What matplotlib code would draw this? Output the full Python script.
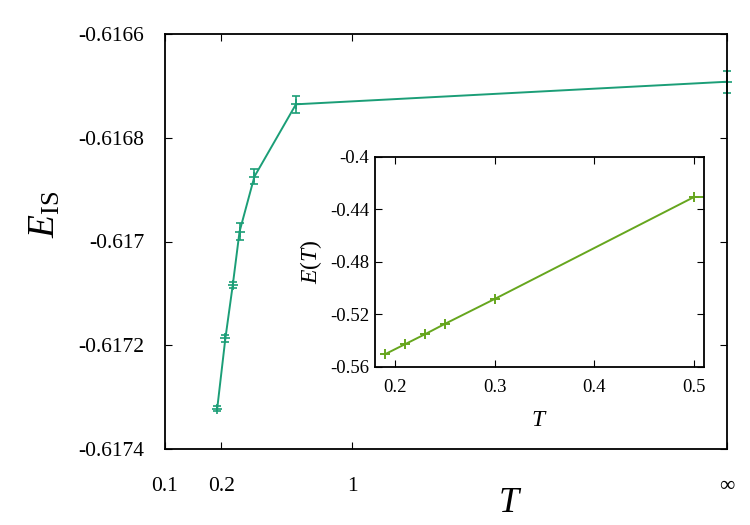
import numpy as np
import matplotlib
matplotlib.use("Agg")
import matplotlib.pyplot as plt

plt.rcParams['font.family'] = ['Liberation Serif', 'DejaVu Serif']
plt.rcParams['mathtext.fontset'] = 'custom'
plt.rcParams['mathtext.rm'] = 'Liberation Serif'
plt.rcParams['mathtext.it'] = 'Liberation Serif:italic'

# main panel: inherent structure energy vs T (infinity drawn at T=100)
T_main = [0.19, 0.21, 0.23, 0.25, 0.3, 0.5, 100.0]
E_is = [-0.617322, -0.617187, -0.617084, -0.616981, -0.616875, -0.6167355, -0.616692]
E_is_err = [0.0000048, 0.0000064, 0.0000058, 0.000016, 0.000015, 0.0000167, 0.000021]
x_ticks = [0.1, 0.2, 1, 100]
x_ticklabels = ["0.1", "0.2", "1", "\u221e"]
y_ticks = [-0.6174, -0.6172, -0.617, -0.6168, -0.6166]
y_ticklabels = ["-0.6174", "-0.6172", "-0.617", "-0.6168", "-0.6166"]

# inset: E(T)
T_in = [0.19, 0.21, 0.23, 0.25, 0.3, 0.5, 1.0]
E_T = [-0.5503, -0.5427, -0.5351, -0.5272, -0.5082, -0.4305, -0.4300]
in_xticks = [0.2, 0.3, 0.4, 0.5]
in_yticks = [-0.56, -0.52, -0.48, -0.44, -0.4]
in_yticklabels = ["-0.56", "-0.52", "-0.48", "-0.44", "-0.4"]

fig = plt.figure(figsize=(7.5, 5.25), dpi=100)
ax = fig.add_axes([0.22, 0.1448, 0.7493, 0.7904])
ax.errorbar(T_main, E_is, yerr=E_is_err, color='#1b9e77', lw=1.4,
            marker='+', ms=7, mew=1.2, capsize=3, elinewidth=1.2, capthick=1.2,
            clip_on=False)
ax.set_xscale('log')
ax.set_xlim(0.1, 100)
ax.set_ylim(-0.6174, -0.6166)
ax.set_xticks(x_ticks)
ax.set_xticklabels(x_ticklabels)
ax.minorticks_off()
ax.set_yticks(y_ticks)
ax.set_yticklabels(y_ticklabels)
ax.tick_params(direction='in', top=True, right=True, length=5, width=0.8,
               labelsize=15.5)
ax.tick_params(axis='x', pad=20)
ax.tick_params(axis='y', pad=15)
for s in ax.spines.values():
    s.set_linewidth(1.3)
ax.set_xlabel(r'$T$', fontsize=26)
ax.xaxis.set_label_coords(0.614, -0.092)
ax.set_ylabel(r'$E_{\rm IS}$', fontsize=27)
ax.yaxis.set_label_coords(-0.183, 0.565)

ins = fig.add_axes([0.5, 0.301, 0.4387, 0.4])
ins.plot(T_in, E_T, color='#66a61e', lw=1.4, marker='+', ms=7, mew=1.4)
ins.set_xlim(0.18, 0.51)
ins.set_ylim(-0.56, -0.4)
ins.set_xticks(in_xticks)
ins.set_yticks(in_yticks)
ins.set_yticklabels(in_yticklabels)
ins.tick_params(direction='in', top=True, right=True, length=5, width=0.8,
                labelsize=13.5)
ins.tick_params(axis='x', pad=9)
ins.tick_params(axis='y', pad=4)
for s in ins.spines.values():
    s.set_linewidth(1.3)
ins.set_xlabel(r'$T$', fontsize=17)
ins.xaxis.set_label_coords(0.5, -0.205)
ins.set_ylabel(r'$E(T)$', fontsize=17)
ins.yaxis.set_label_coords(-0.155, 0.5)

fig.savefig("out.png", dpi=100)
